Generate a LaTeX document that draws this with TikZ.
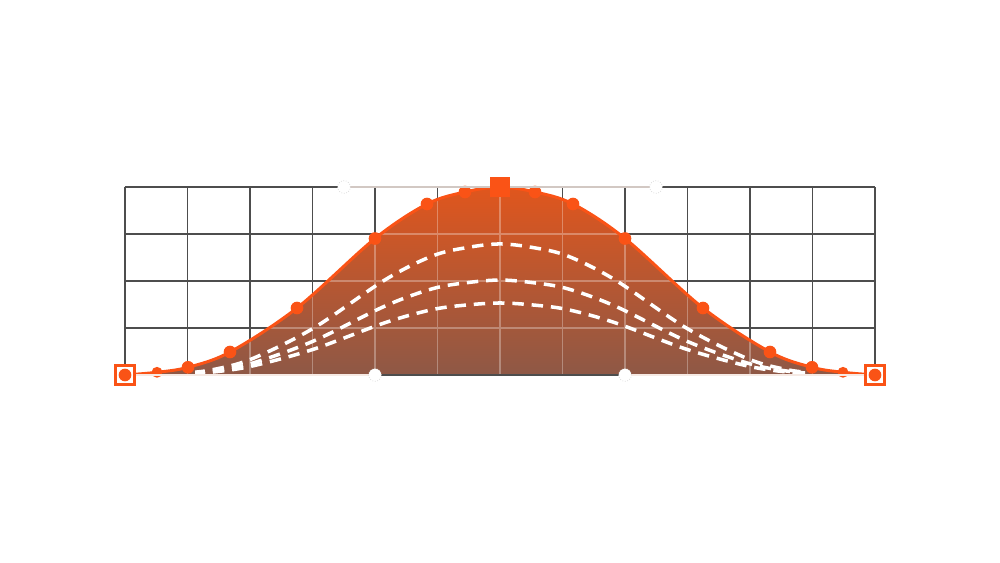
\documentclass[tikz,border=0pt]{standalone}
\definecolor{bellorange}{HTML}{FA5316}
\definecolor{belltop}{HTML}{E0561D}
\definecolor{bellbot}{HTML}{8E5846}
\definecolor{gridgray}{HTML}{4D4D4D}
\definecolor{handlegray}{HTML}{D2C8C3}
\definecolor{handlelight}{HTML}{F6EAE4}
\newcommand{\bellcurve}{plot[smooth, tension=0.55] coordinates {(-375,0) (-343,2.7) (-312,7.7) (-270,23) (-203,67) (-125,136.5) (-73,171) (-35,183) (0,188) (35,183) (73,171) (125,136.5) (203,67) (270,23) (312,7.7) (343,2.7) (375,0)}}
\tikzset{
  gridln/.style={draw=gridgray, line width=1.1pt},
  gridlt/.style={draw=white, opacity=0.3, line width=1.1pt},
  dashln/.style={draw=white, line width=2pt, dash pattern=on 6.5pt off 4.5pt},
  bellln/.style={draw=bellorange, line width=1.7pt},
  dot/.style={circle, fill=bellorange, inner sep=0pt, minimum size=7.2pt},
  smalldot/.style={dot, minimum size=6.2pt},
  ctrl/.style={circle, fill=white, draw=gray!35, densely dotted, line width=0.4pt, inner sep=0pt, minimum size=7.2pt},
  endsq/.style={rectangle, draw=bellorange, fill=white, line width=1.8pt, minimum size=11.2pt, inner sep=0pt},
  peak/.style={rectangle, fill=bellorange, minimum size=11.3pt, inner sep=0pt},
  handle/.style={draw=handlegray, line width=1.2pt},
  handlelt/.style={draw=handlelight, line width=1.4pt},
}
\begin{document}
\begin{tikzpicture}[x=0.02cm, y=0.02cm]
\useasboundingbox (0,0) rectangle (1000,563);
% grid behind the curve
\draw[gridln] (124.9,187.9) grid[xstep=62.5, ystep=47] (875.1,376.1);
\begin{scope}[shift={(500,188)}]
  % filled bell
  \fill[top color=belltop, bottom color=bellbot] \bellcurve -- cycle;
  \begin{scope}
    \clip \bellcurve -- cycle;
    \draw[gridlt] (-375.1,-0.1) grid[xstep=62.5, ystep=47] (375.1,188.1);
  \end{scope}
  % lower curves
  \begin{scope}
    \clip (-305,0) rectangle (305,188);
    \draw[dashln, xscale=0.92, yscale=0.697] \bellcurve;
    \draw[dashln, xscale=0.92, yscale=0.505] \bellcurve;
    \draw[dashln, xscale=0.92, yscale=0.383] \bellcurve;
  \end{scope}
  \draw[bellln] \bellcurve;
  % points on the curve
  \node[smalldot] (d1) at (-343,2.7) {};
  \node[dot] (d2) at (-312,7.7) {};
  \node[dot] (d3) at (-270,23) {};
  \node[dot] (d4) at (-203,67) {};
  \node[dot] (d5) at (-125,136.5) {};
  \node[dot] (d6) at (-73,171) {};
  \node[dot] (d7) at (-35,183) {};
  \node[dot] (d9) at (35,183) {};
  \node[dot] (d10) at (73,171) {};
  \node[dot] (d11) at (125,136.5) {};
  \node[dot] (d12) at (203,67) {};
  \node[dot] (d13) at (270,23) {};
  \node[dot] (d14) at (312,7.7) {};
  \node[smalldot] (d15) at (343,2.7) {};
  % anchors and handles
  \coordinate (a0) at (-375,0);
  \coordinate (a4) at (375,0);
  \coordinate (a2) at (0,188);
  \coordinate (c1) at (-125,0);
  \coordinate (c2) at (-156,188);
  \coordinate (c3) at (156,188);
  \coordinate (c4) at (125,0);
  \draw[gridln] (c1) -- (c4);
  \draw[handlelt] (a0) -- (c1);
  \draw[handlelt] (c4) -- (a4);
  \draw[handle] (c2) -- (c3);
  \node[ctrl] (k1) at (c1) {};
  \node[ctrl] (k2) at (c2) {};
  \node[ctrl] (k3) at (c3) {};
  \node[ctrl] (k4) at (c4) {};
  \node[endsq] (e0) at (a0) {};
  \node[dot] (e0dot) at (a0) {};
  \node[endsq] (e4) at (a4) {};
  \node[dot] (e4dot) at (a4) {};
  \node[peak] (top) at (a2) {};
\end{scope}
\end{tikzpicture}
\end{document}
